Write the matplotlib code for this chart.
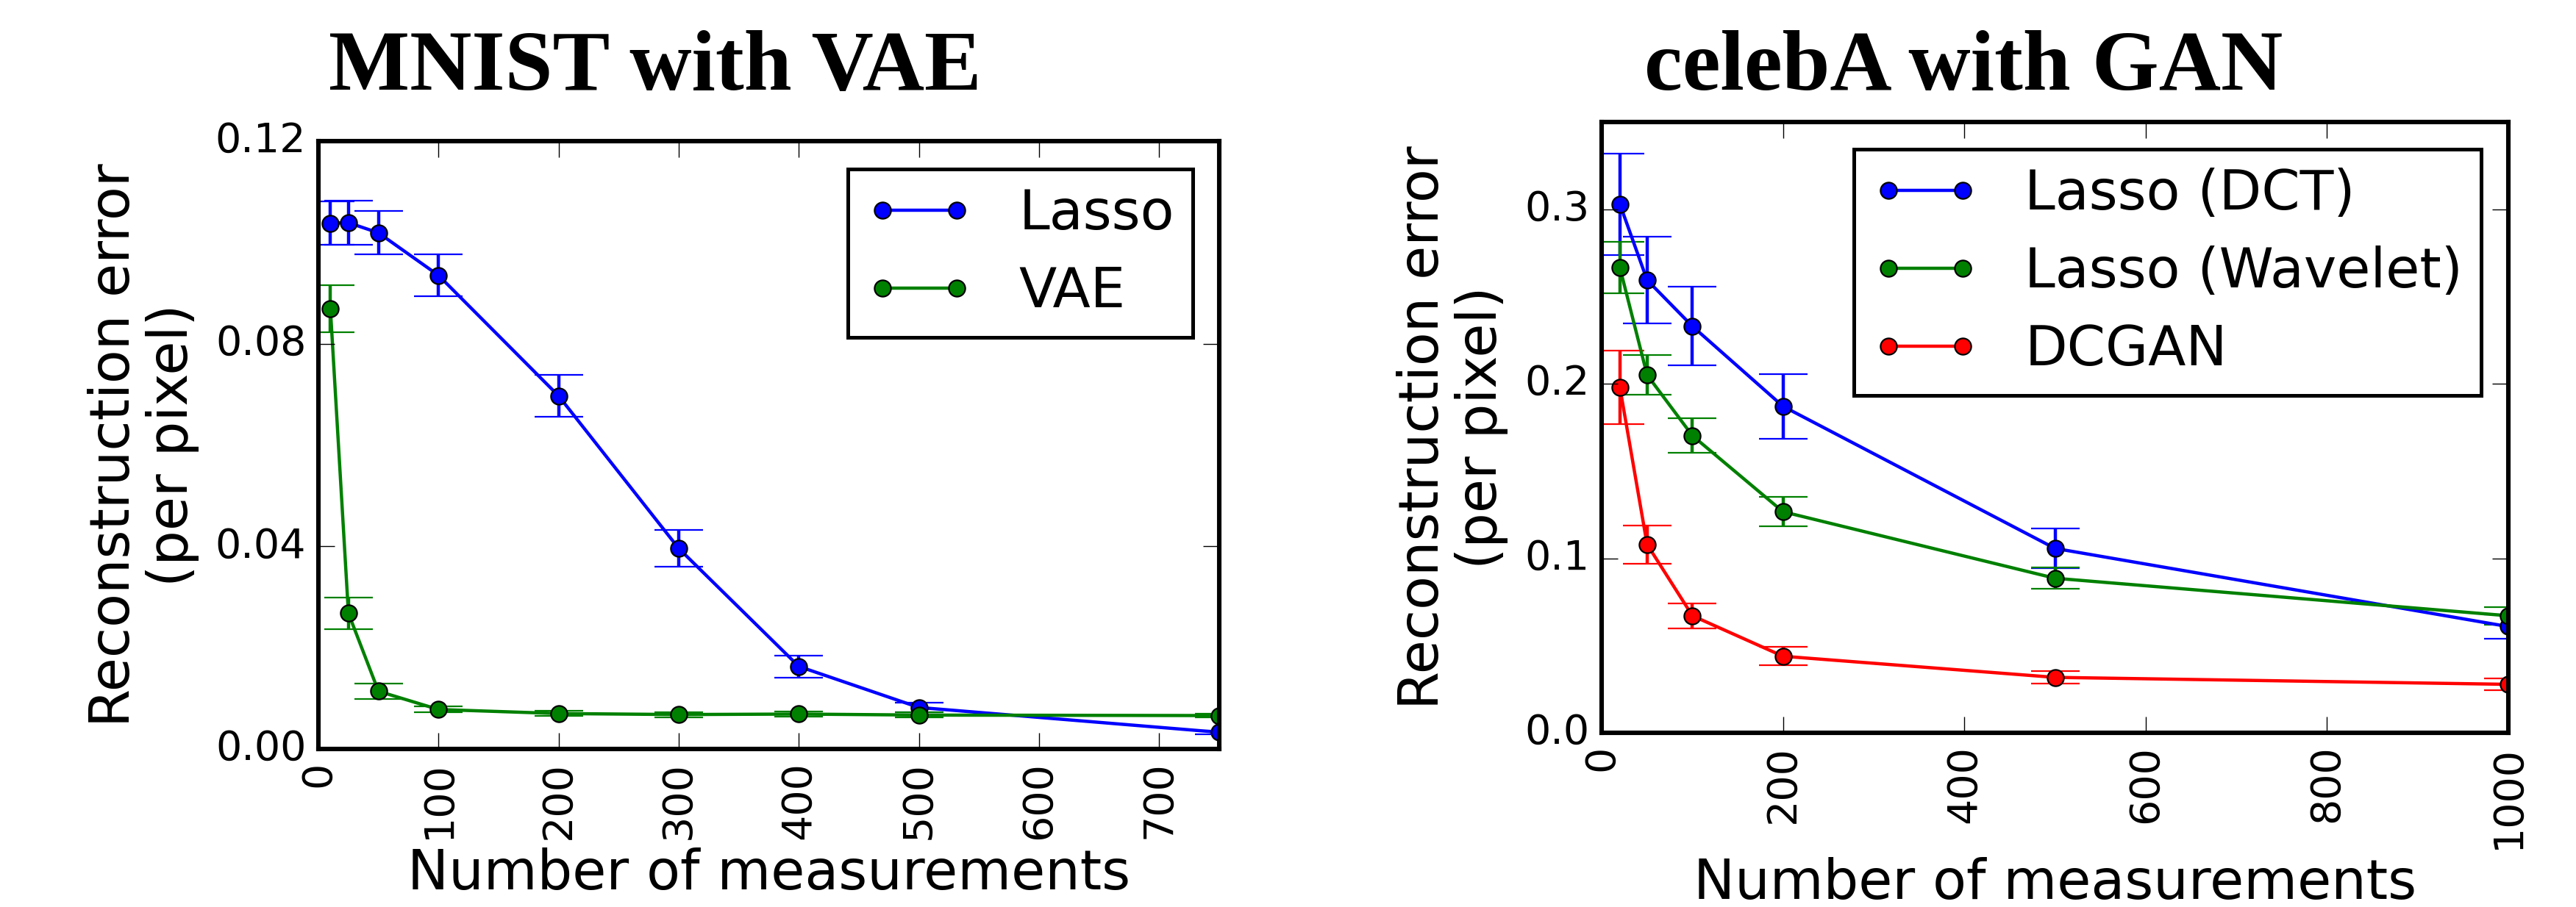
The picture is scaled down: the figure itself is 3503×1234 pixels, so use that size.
import numpy as np
import matplotlib
matplotlib.use("Agg")
import matplotlib.pyplot as plt
from matplotlib.lines import Line2D

# MNIST with VAE
mnist_m = [10, 25, 50, 100, 200, 300, 400, 500, 750]
mnist_lasso = [0.1038, 0.1039, 0.1019, 0.0935, 0.0697, 0.0396, 0.0163, 0.0082, 0.0033]
mnist_lasso_err = [0.0043, 0.0043, 0.0043, 0.0041, 0.0041, 0.0036, 0.0022, 0.0010, 0.0004]
mnist_vae = [0.0869, 0.0268, 0.0114, 0.0078, 0.0070, 0.0068, 0.0069, 0.0067, 0.0066]
mnist_vae_err = [0.0046, 0.0031, 0.0015, 0.0006, 0.0005, 0.0005, 0.0005, 0.0005, 0.0004]

# celebA with GAN
celeba_m = [20, 50, 100, 200, 500, 1000]
celeba_dct = [0.303, 0.2595, 0.233, 0.1871, 0.1057, 0.0609]
celeba_dct_err = [0.029, 0.025, 0.0225, 0.0184, 0.0114, 0.007]
celeba_wav = [0.2666, 0.2051, 0.1703, 0.1267, 0.0886, 0.0671]
celeba_wav_err = [0.0147, 0.0114, 0.0098, 0.0084, 0.0062, 0.005]
celeba_gan = [0.198, 0.108, 0.0671, 0.0439, 0.0318, 0.0278]
celeba_gan_err = [0.0212, 0.0109, 0.0072, 0.0052, 0.0037, 0.0035]

plt.style.use('classic')
plt.rcParams['font.family'] = 'DejaVu Sans'
plt.rcParams['xtick.major.size'] = 8
plt.rcParams['ytick.major.size'] = 8
plt.rcParams['axes.linewidth'] = 2.2

fig = plt.figure(figsize=(17.515, 6.17), dpi=200)
ax1 = fig.add_axes([0.1236, 0.1742, 0.3497, 0.6702])
ax2 = fig.add_axes([0.6218, 0.1920, 0.3519, 0.6734])

style = dict(marker='o', markersize=8, linewidth=1.6, capsize=12, capthick=1.6,
             elinewidth=1.6, markeredgecolor='k', markeredgewidth=0.8)


def handle(c):
    return Line2D([], [], color=c, marker='o', markersize=8, linewidth=1.6,
                  markeredgecolor='k', markeredgewidth=0.8)


ax1.errorbar(mnist_m, mnist_lasso, yerr=mnist_lasso_err, color='b', **style)
ax1.errorbar(mnist_m, mnist_vae, yerr=mnist_vae_err, color='g', **style)
ax1.set_xlim(0, 750)
ax1.set_ylim(0, 0.12)
ax1.set_xticks(np.arange(0, 701, 100))
ax1.set_yticks([0.0, 0.04, 0.08, 0.12])
ax1.set_yticklabels(['0.00', '0.04', '0.08', '0.12'])

ax2.errorbar(celeba_m, celeba_dct, yerr=celeba_dct_err, color='b', **style)
ax2.errorbar(celeba_m, celeba_wav, yerr=celeba_wav_err, color='g', **style)
ax2.errorbar(celeba_m, celeba_gan, yerr=celeba_gan_err, color='r', **style)
ax2.set_xlim(0, 1000)
ax2.set_ylim(0, 0.35)
ax2.set_xticks(np.arange(0, 1001, 200))
ax2.set_yticks([0.0, 0.1, 0.2, 0.3])

for ax in (ax1, ax2):
    ax.tick_params(axis='both', labelsize=20, direction='in', pad=6)
    for lab in ax.get_xticklabels():
        lab.set_rotation(90)
    ax.set_xlabel('Number of measurements', fontsize=27, labelpad=4)
    ax.set_ylabel('Reconstruction error\n(per pixel)', fontsize=27, labelpad=8,
                  linespacing=1.1)

leg_kw = dict(fontsize=27, numpoints=2, handlelength=1.94, handletextpad=0.83,
              borderpad=0.33, labelspacing=0.44, borderaxespad=0.0, frameon=True,
              fancybox=False, loc='upper right')
l1 = ax1.legend([handle('b'), handle('g')], ['Lasso', 'VAE'],
                bbox_to_anchor=(0.9706, 0.954), **leg_kw)
l2 = ax2.legend([handle('b'), handle('g'), handle('r')],
                ['Lasso (DCT)', 'Lasso (Wavelet)', 'DCGAN'],
                bbox_to_anchor=(0.970, 0.955), **leg_kw)
for l in (l1, l2):
    l.get_frame().set_linewidth(1.8)

title_font = dict(family='Liberation Serif', weight='bold', fontsize=42, ha='center', va='center')
fig.text(0.2544, 0.924, 'MNIST with VAE', **title_font)
fig.text(0.7622, 0.924, 'celebA with GAN', **title_font)

fig.savefig('out.png', dpi=200, facecolor='white')
